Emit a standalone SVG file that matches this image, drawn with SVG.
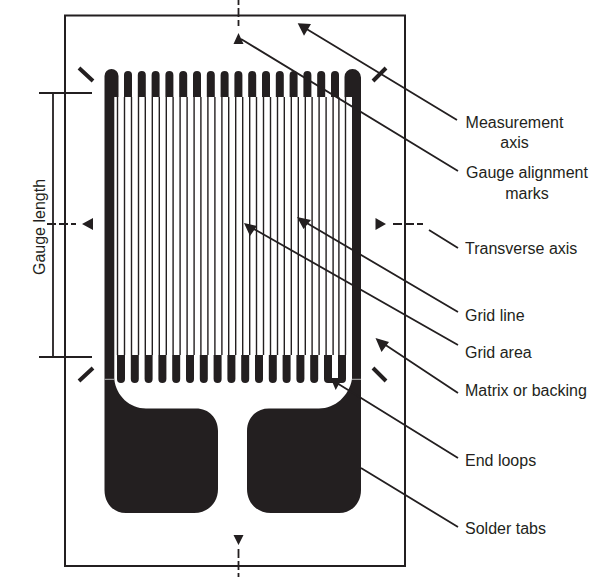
<svg xmlns="http://www.w3.org/2000/svg" width="611" height="577" viewBox="0 0 611 577">
<style>
text{font-family:"Liberation Sans",Arial,sans-serif;font-size:16px;fill:#231f20}
.k{fill:#231f20;stroke:none}
.l{stroke:#231f20;stroke-width:1.8;fill:none}
.g{stroke:#231f20;stroke-width:1.4;fill:none}
.m{stroke:#231f20;stroke-width:4;fill:none}
.d{stroke:#231f20;stroke-width:1.8;fill:none;stroke-dasharray:9 3}
</style>
<defs>
<path id="ft" class="k" d="M124 97V75a4 4 0 0 1 8 0V97Z"/>
<path id="fb" class="k" d="M117 355V379a4 4 0 0 0 8 0V355Z"/>
</defs>
<rect id="frame" x="65" y="15.500" width="340" height="550.500" fill="#fff" stroke="#231f20" stroke-width="2"/>
<g id="grid">
<path class="g" d="M117.500 97V355M124.500 97V355M131.500 97V355M138.500 97V355M145.300 97V355M152.300 97V355M159.300 97V355M166.300 97V355M173.100 97V355M180.100 97V355M187.100 97V355M194.100 97V355M200.900 97V355M207.900 97V355M214.900 97V355M221.900 97V355M228.700 97V355M235.700 97V355M242.700 97V355M249.700 97V355M256.500 97V355M263.500 97V355M270.500 97V355M277.500 97V355M284.300 97V355M291.300 97V355M298.300 97V355M305.300 97V355M312.100 97V355M319.100 97V355M326.100 97V355M333.100 97V355M338.900 97V355M345.500 97V355"/>
<use href="#ft"/><use href="#ft" x="13.800"/><use href="#ft" x="27.600"/><use href="#ft" x="41.400"/><use href="#ft" x="55.200"/><use href="#ft" x="69"/><use href="#ft" x="82.800"/><use href="#ft" x="96.600"/><use href="#ft" x="110.400"/><use href="#ft" x="124.200"/><use href="#ft" x="138"/><use href="#ft" x="151.800"/><use href="#ft" x="165.600"/><use href="#ft" x="179.400"/><use href="#ft" x="193.200"/><use href="#ft" x="207"/>
<use href="#fb"/><use href="#fb" x="13.800"/><use href="#fb" x="27.600"/><use href="#fb" x="41.400"/><use href="#fb" x="55.200"/><use href="#fb" x="69"/><use href="#fb" x="82.800"/><use href="#fb" x="96.600"/><use href="#fb" x="110.400"/><use href="#fb" x="124.200"/><use href="#fb" x="138"/><use href="#fb" x="151.800"/><use href="#fb" x="165.600"/><use href="#fb" x="179.400"/><use href="#fb" x="193.200"/>
<path class="k" d="M324 355H332V378H338V355H346V379a4 4 0 0 1-4 4H328a4 4 0 0 1-4-4Z"/>
</g>
<g id="tab-left">
<path class="k" d="M104.500 97V76a7 7 0 0 1 7-7a7 7 0 0 1 7 7V97H114.300V379H104.500Z"/>
<path class="k" d="M104.500 379H114.300C116 396 130 408.500 146 408.500H196C209 408.500 218 418 218 431V489C218 503 208 513 194 513H126C113 513 104.500 503 104.500 490Z"/>
<path d="M104.500 379.300H114.300" stroke="#b5b5b5" stroke-width="1"/>
</g>
<g id="tab-right">
<path class="k" d="M344.500 97V77a8 8 0 0 1 8-8a8.500 8.500 0 0 1 8.500 8.500V379H352V97Z"/>
<path class="k" d="M352 379H361V490C361 503 352 513 339 513H271C257 513 247 503 247 489V431C247 418 256 408.500 269 408.500H319C335 408.500 349 396 352 379Z"/>
<path d="M352 379.300H361" stroke="#b5b5b5" stroke-width="1"/>
</g>
<g id="marks">
<path class="m" d="M79 68L93 81M386 68L373 81M93 368L79 381M373 368L386 381"/>
<path class="k" d="M238.500 33L243.500 44H233.500ZM238.500 545L243.500 535H233.500ZM82 224L93 218V230ZM386 224L375.500 218V230Z"/>
</g>
<g id="connectors">
<path class="d" d="M238.500 -4V26M238.500 549V577M47 224H76M393 224H423"/>
<path class="l" d="M53 93V357M39 93H92M39 357H92"/>
<path class="l" d="M300 25L457 120M241 39L458 171M429 230L458 248M300 219L458 312M247 225L458 345M378 340L458 393M332 380L458 458M361 468L458 527"/>
<path class="k" d="M297.700 23.300L311 24L304 35.700ZM244 223L257 226L250 236ZM297 217L311 220L303.500 229ZM375.500 338L389 342L381.500 352ZM330.700 378.300L340.700 381L335.700 390Z"/>
</g>
<g id="labels">
<text x="514.500" y="127.500" text-anchor="middle">Measurement</text>
<text x="514.500" y="148" text-anchor="middle">axis</text>
<text x="527" y="178" text-anchor="middle">Gauge alignment</text>
<text x="527" y="198.500" text-anchor="middle">marks</text>
<text x="465" y="254">Transverse axis</text>
<text x="465" y="321">Grid line</text>
<text x="465" y="358">Grid area</text>
<text x="465" y="396">Matrix or backing</text>
<text x="465" y="466">End loops</text>
<text x="465" y="534">Solder tabs</text>
<text transform="translate(45 227) rotate(-90)" text-anchor="middle">Gauge length</text>
</g>
</svg>
